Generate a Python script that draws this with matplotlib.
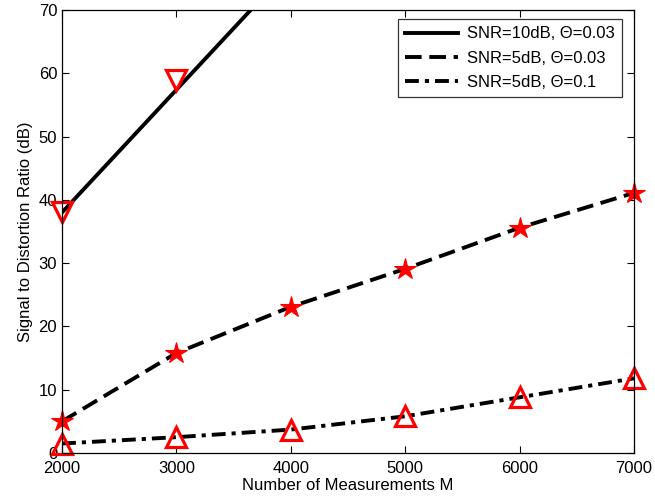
import matplotlib
matplotlib.use("Agg")
import matplotlib.pyplot as plt

plt.rcParams['font.family'] = ['Liberation Sans', 'DejaVu Sans']
plt.rcParams['lines.scale_dashes'] = False

M = [2000, 3000, 4000, 5000, 6000, 7000]

# Series 1: SNR=10dB, Theta=0.03
line1_x = [2000, 3000, 4000]
line1_y = [38.0, 57.4, 76.8]
mark1_x = [2000, 3000]
mark1_y = [38.1, 58.9]

# Series 2: SNR=5dB, Theta=0.03
line2_y = [5.0, 15.8, 23.1, 29.1, 35.6, 41.1]

# Series 3: SNR=5dB, Theta=0.1
line3_y = [1.5, 2.5, 3.7, 5.8, 8.8, 11.8]

labels = ["SNR=10dB, \u0398=0.03", "SNR=5dB, \u0398=0.03", "SNR=5dB, \u0398=0.1"]
xticks = [2000, 3000, 4000, 5000, 6000, 7000]
yticks = [0, 10, 20, 30, 40, 50, 60, 70]

fig = plt.figure(figsize=(6.55, 4.96), dpi=100)
ax = fig.add_axes([62/655, 43/496, 572/655, 443/496])

lw = 2.8
h1, = ax.plot(line1_x, line1_y, color='black', lw=lw, linestyle='-', label=labels[0])
h2, = ax.plot(M, line2_y, color='black', lw=lw, dashes=(12, 5.5), label=labels[1])
h3, = ax.plot(M, line3_y, color='black', lw=lw, dashes=(10, 4.3, 3, 4.3), label=labels[2])

ax.plot(mark1_x, mark1_y, linestyle='none', marker='v', markersize=14,
        markerfacecolor='none', markeredgecolor='red', markeredgewidth=2.3, clip_on=False)
ax.plot(M, line2_y, linestyle='none', marker='*', markersize=16,
        markerfacecolor='red', markeredgecolor='red', markeredgewidth=0.8, clip_on=False)
ax.plot(M, line3_y, linestyle='none', marker='^', markersize=14,
        markerfacecolor='none', markeredgecolor='red', markeredgewidth=2.3, clip_on=False)

ax.set_xlim(2000, 7000)
ax.set_ylim(0, 70)
ax.set_xticks(xticks)
ax.set_yticks(yticks)
ax.tick_params(direction='in', top=True, right=True, labelsize=12, length=5, width=0.8)
ax.tick_params(axis='x', pad=6)
for s in ax.spines.values():
    s.set_linewidth(0.9)
ax.set_xlabel("Number of Measurements M", fontsize=12, labelpad=1)
ax.set_ylabel("Signal to Distortion Ratio (dB)", fontsize=12, labelpad=4)

leg = ax.legend(handles=[h1, h2, h3], loc='upper right', fontsize=12,
                frameon=True, fancybox=False, handlelength=3.2, handletextpad=0.5,
                borderpad=0.45, labelspacing=0.55, borderaxespad=0,
                bbox_to_anchor=(0.979, 0.98))
leg.get_frame().set_edgecolor('black')
leg.get_frame().set_linewidth(0.9)

fig.savefig("out.png", dpi=100)
